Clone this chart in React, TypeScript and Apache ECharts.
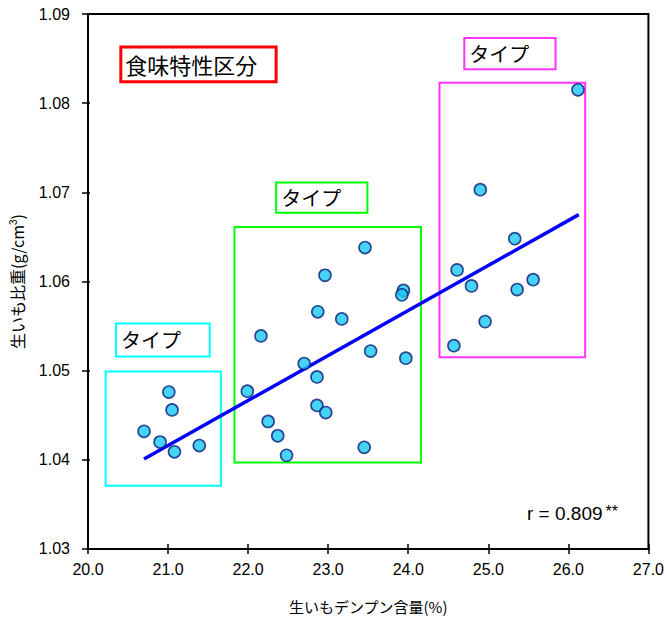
import React, { useEffect, useRef } from "react";
import * as echarts from "echarts";

// ---- data ----
const groupCyan: [number, number][] = [
  [20.7, 1.0432], [20.9, 1.042], [21.01, 1.0476], [21.05, 1.0456], [21.08, 1.0409], [21.39, 1.0416],
];
const groupGreen: [number, number][] = [
  [23.46, 1.0638], [22.96, 1.0607], [23.94, 1.059], [23.92, 1.0585], [22.87, 1.0566], [23.17, 1.0558],
  [22.16, 1.0539], [23.53, 1.0522], [23.97, 1.0514], [22.7, 1.0508], [22.86, 1.0493], [21.99, 1.0477],
  [22.86, 1.0461], [22.97, 1.0453], [22.25, 1.0443], [22.37, 1.0427], [23.45, 1.0414], [22.48, 1.0405],
];
const groupMagenta: [number, number][] = [
  [26.12, 1.0815], [24.9, 1.0703], [25.33, 1.0648], [24.61, 1.0613], [24.79, 1.0595], [25.56, 1.0602],
  [25.36, 1.0591], [24.96, 1.0555], [24.57, 1.0528],
];
const regressionLine: [number, number][] = [[20.7, 1.0401], [26.13, 1.0675]];
// annotation boxes [x1, y1, x2, y2]
const boxCyan = [20.22, 1.0499, 21.66, 1.0371];
const boxGreen = [21.83, 1.0661, 24.16, 1.0397];
const boxMagenta = [24.39, 1.0823, 26.21, 1.0515];
const labelTitle = [20.41, 1.0863, 22.35, 1.0824];
const labelCyan = [20.35, 1.0553, 21.52, 1.0516];
const labelGreen = [22.35, 1.0711, 23.49, 1.0677];
const labelMagenta = [24.7, 1.0873, 25.84, 1.0838];
const titleText = "食味特性区分";
const typeText = "タイプ";
const rText = "r = 0.809";
const xName = "生いもデンプン含量(%)";
const xMin = 20, xMax = 27, xStep = 1;
const yMin = 1.03, yMax = 1.09, yStep = 0.01;

const JP = "'Noto Sans CJK JP', 'Noto Sans', sans-serif";
const LAT = "'Liberation Sans', Arial, sans-serif";

function area(b: number[], color: string, width: number, text?: string, fontSize = 20) {
  return [
    {
      coord: [b[0], b[1]],
      itemStyle: { color: "rgba(0,0,0,0)", borderColor: color, borderWidth: width },
      label: text
        ? { show: true, position: "insideLeft", distance: 6, formatter: text, color: "#000", fontSize, fontFamily: JP }
        : { show: false },
    },
    { coord: [b[2], b[3]] },
  ];
}

export default function App() {
  const ref = useRef<HTMLDivElement>(null);
  useEffect(() => {
    document.body.style.margin = "0";
    const chart = echarts.init(ref.current!, null, { renderer: "svg" });
    const pointStyle = { color: "#18c8f4", borderColor: "#0a1a78", borderWidth: 1.6 };
    const axisCommon = {
      type: "value" as const,
      splitLine: { show: false },
    };
    chart.setOption({
      animation: false,
      backgroundColor: "#fff",
      grid: {
        left: 86.5, right: 15, top: 14, bottom: 69.5,
        show: true, borderColor: "#000", borderWidth: 2, backgroundColor: "transparent",
      },
      xAxis: [
        {
          ...axisCommon, min: xMin, max: xMax, interval: xStep,
          name: xName, nameLocation: "middle", nameGap: 50,
          nameTextStyle: { fontSize: 15, fontFamily: JP, color: "#000" },
          axisLine: { lineStyle: { color: "#000", width: 2 } },
          axisTick: { inside: false, length: 5, lineStyle: { color: "#000", width: 1.5 } },
          axisLabel: { formatter: (v: number) => v.toFixed(1), fontSize: 16, fontFamily: LAT, color: "#000", margin: 13 },
        },
        {
          ...axisCommon, min: xMin, max: xMax, interval: xStep, position: "bottom",
          axisLine: { show: false },
          axisTick: { inside: true, length: 5, lineStyle: { color: "#000", width: 1.5 } },
          axisLabel: { show: false },
        },
      ],
      yAxis: [
        {
          ...axisCommon, min: yMin, max: yMax, interval: yStep,
          name: "{a|生いも比重(g/cm}{s|3}{a|)}", nameLocation: "middle", nameGap: 62,
          nameTextStyle: {
            rich: {
              a: { fontSize: 16, fontFamily: JP, color: "#000" },
              s: { fontSize: 10, fontFamily: LAT, color: "#000", verticalAlign: "top", padding: [0, 0, 8, 0] },
            },
          },
          axisLine: { lineStyle: { color: "#000", width: 2 } },
          axisTick: { inside: false, length: 6, lineStyle: { color: "#000", width: 1.5 } },
          axisLabel: { formatter: (v: number) => v.toFixed(2), fontSize: 16, fontFamily: LAT, color: "#000", margin: 18 },
        },
        {
          ...axisCommon, min: yMin, max: yMax, interval: yStep, position: "left",
          axisLine: { show: false },
          axisTick: { inside: true, length: 2, lineStyle: { color: "#000", width: 1.5 } },
          axisLabel: { show: false },
        },
      ],
      series: [
        {
          type: "line", data: regressionLine, symbol: "none", z: 2,
          lineStyle: { color: "#0000ff", width: 3.5 },
          markArea: {
            silent: true,
            data: [
              area(boxCyan, "#00ffff", 2),
              area(boxGreen, "#00ff00", 2),
              area(boxMagenta, "#ff33ff", 2),
              area(labelTitle, "#ff0000", 3, titleText, 22),
              area(labelCyan, "#00ffff", 2, typeText),
              area(labelGreen, "#00ff00", 2, typeText),
              area(labelMagenta, "#ff33ff", 2, typeText),
            ],
          },
        },
        { type: "scatter", data: groupCyan, symbolSize: 12, itemStyle: pointStyle, z: 5 },
        { type: "scatter", data: groupGreen, symbolSize: 12, itemStyle: pointStyle, z: 5 },
        { type: "scatter", data: groupMagenta, symbolSize: 12, itemStyle: pointStyle, z: 5 },
      ],
      graphic: [
        {
          type: "text", left: 527, top: 503,
          style: {
            text: "{r|" + rText + "}{s|**}",
            rich: {
              r: { fontSize: 19, fontFamily: LAT, fill: "#000" },
              s: { fontSize: 16, fontFamily: LAT, fill: "#000", padding: [0, 0, 5, 3] },
            },
          },
        },
      ],
    });
    return () => chart.dispose();
  }, []);
  return <div ref={ref} style={{ width: 667, height: 619 }} />;
}
